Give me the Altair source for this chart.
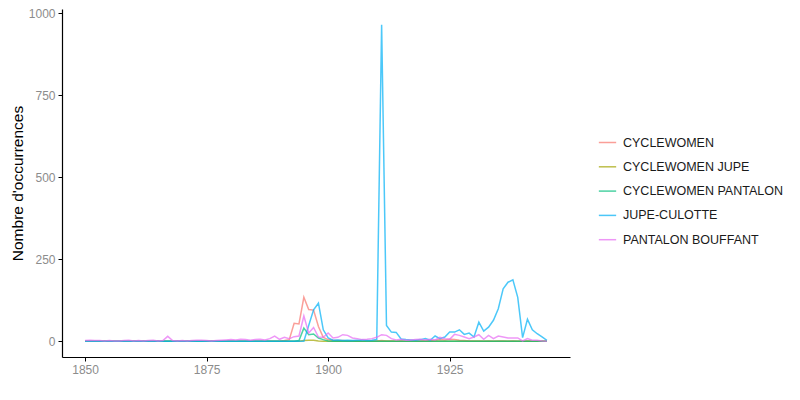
import altair as alt
import pandas as pd

years = list(range(1850, 1946))

series_names = ["CYCLEWOMEN", "CYCLEWOMEN JUPE", "CYCLEWOMEN PANTALON",
                "JUPE-CULOTTE", "PANTALON BOUFFANT"]
series_colors = ["#F8766D", "#A3A500", "#00BF7D", "#00B0F6", "#E76BF3"]

cyclewomen = ([0] * 40 +
              [0, 2, 5, 55, 53, 134, 97, 95, 45, 12] +
              [5, 3, 2, 2, 1, 1, 1, 0, 1, 1] +
              [1, 2, 1, 1, 0, 1, 0, 1, 1, 0] +
              [2, 1, 3, 5, 4, 6, 5, 3, 2, 1] +
              [1, 1, 0, 1, 0, 1, 1, 0, 1, 0] +
              [0, 1, 0, 0, 0, 0])

cyclewomen_jupe = ([0] * 40 +
                   [0, 0, 0, 0, 0, 2, 3, 3, 1, 0] +
                   [0] * 10 + [0] * 10 + [0] * 10 + [0] * 10 + [0] * 6)

cyclewomen_pantalon = ([0] * 40 +
                       [0, 0, 0, 0, 2, 40, 20, 22, 10, 5] +
                       [1, 0, 0, 0, 0, 0, 0, 0, 0, 0] +
                       [0] * 10 + [0] * 10 + [0] * 10 + [0] * 6)

jupe_culotte = ([0] * 40 +
                [0, 0, 0, 0, 0, 0, 48, 96, 116, 35] +
                [10, 3, 4, 2, 3, 2, 3, 4, 2, 3] +
                [5, 965, 48, 28, 27, 7, 5, 4, 3, 5] +
                [8, 3, 16, 8, 13, 28, 28, 35, 21, 25] +
                [13, 58, 31, 43, 64, 99, 160, 180, 187, 134] +
                [11, 67, 35, 23, 13, 3])

pantalon_bouffant = ([2, 3, 2, 2, 1, 2, 1, 1, 2, 3] +
                     [1, 2, 1, 2, 3, 1, 2, 15, 2, 1] +
                     [2, 1, 2, 3, 3, 2, 1, 2, 3, 4] +
                     [5, 4, 6, 5, 3, 5, 6, 4, 8, 16] +
                     [6, 12, 8, 14, 16, 77, 25, 42, 13, 12] +
                     [25, 10, 12, 20, 18, 10, 8, 5, 6, 8] +
                     [12, 20, 18, 8, 4, 6, 3, 4, 5, 6] +
                     [4, 6, 4, 12, 8, 6, 21, 18, 13, 8] +
                     [13, 20, 6, 18, 8, 16, 13, 10, 10, 10] +
                     [1, 8, 3, 3, 1, 0])

all_series = [cyclewomen, cyclewomen_jupe, cyclewomen_pantalon,
              jupe_culotte, pantalon_bouffant]

x_ticks = [1850, 1875, 1900, 1925]
y_ticks = [0, 250, 500, 750, 1000]

rows = []
for name, vals in zip(series_names, all_series):
    for y, v in zip(years, vals):
        rows.append({"annee": y, "n": v, "terme": name})
df = pd.DataFrame(rows)

chart = alt.Chart(df).mark_line(strokeWidth=1.5, opacity=0.7).encode(
    x=alt.X("annee:Q", title=None,
            scale=alt.Scale(domain=[1845.25, 1949.75], nice=False, zero=False),
            axis=alt.Axis(values=x_ticks, format="d")),
    y=alt.Y("n:Q", title="Nombre d'occurrences",
            scale=alt.Scale(domain=[-48, 1013], nice=False, zero=False),
            axis=alt.Axis(values=y_ticks, format="d", titlePadding=3)),
    color=alt.Color("terme:N", title=None,
                    scale=alt.Scale(domain=series_names, range=series_colors),
                    legend=alt.Legend(orient="none", legendX=536, legendY=124,
                                      symbolType="stroke", symbolSize=300,
                                      symbolStrokeWidth=1.5, symbolOpacity=0.7,
                                      labelFontSize=12.5, labelColor="#1a1a1a",
                                      labelFont="Liberation Sans",
                                      rowPadding=8.3, labelOffset=6)),
    detail="terme:N",
).properties(
    width=508, height=348,
    autosize=alt.AutoSizeParams(type="none"),
    padding={"left": 54, "top": 1, "right": 222, "bottom": 35},
).configure_view(stroke=None).configure_axis(
    grid=False,
    domainColor="black", domainWidth=1.2,
    tickColor="black", tickSize=4, tickWidth=1,
    labelColor="#8c8c8c", labelFontSize=12, labelFont="Liberation Sans",
    titleFont="Liberation Sans", titleFontSize=15.5, titleFontWeight="normal",
    titleColor="black", labelPadding=3,
)

chart.save("out.html", embed_options={"renderer": "svg", "actions": False})
